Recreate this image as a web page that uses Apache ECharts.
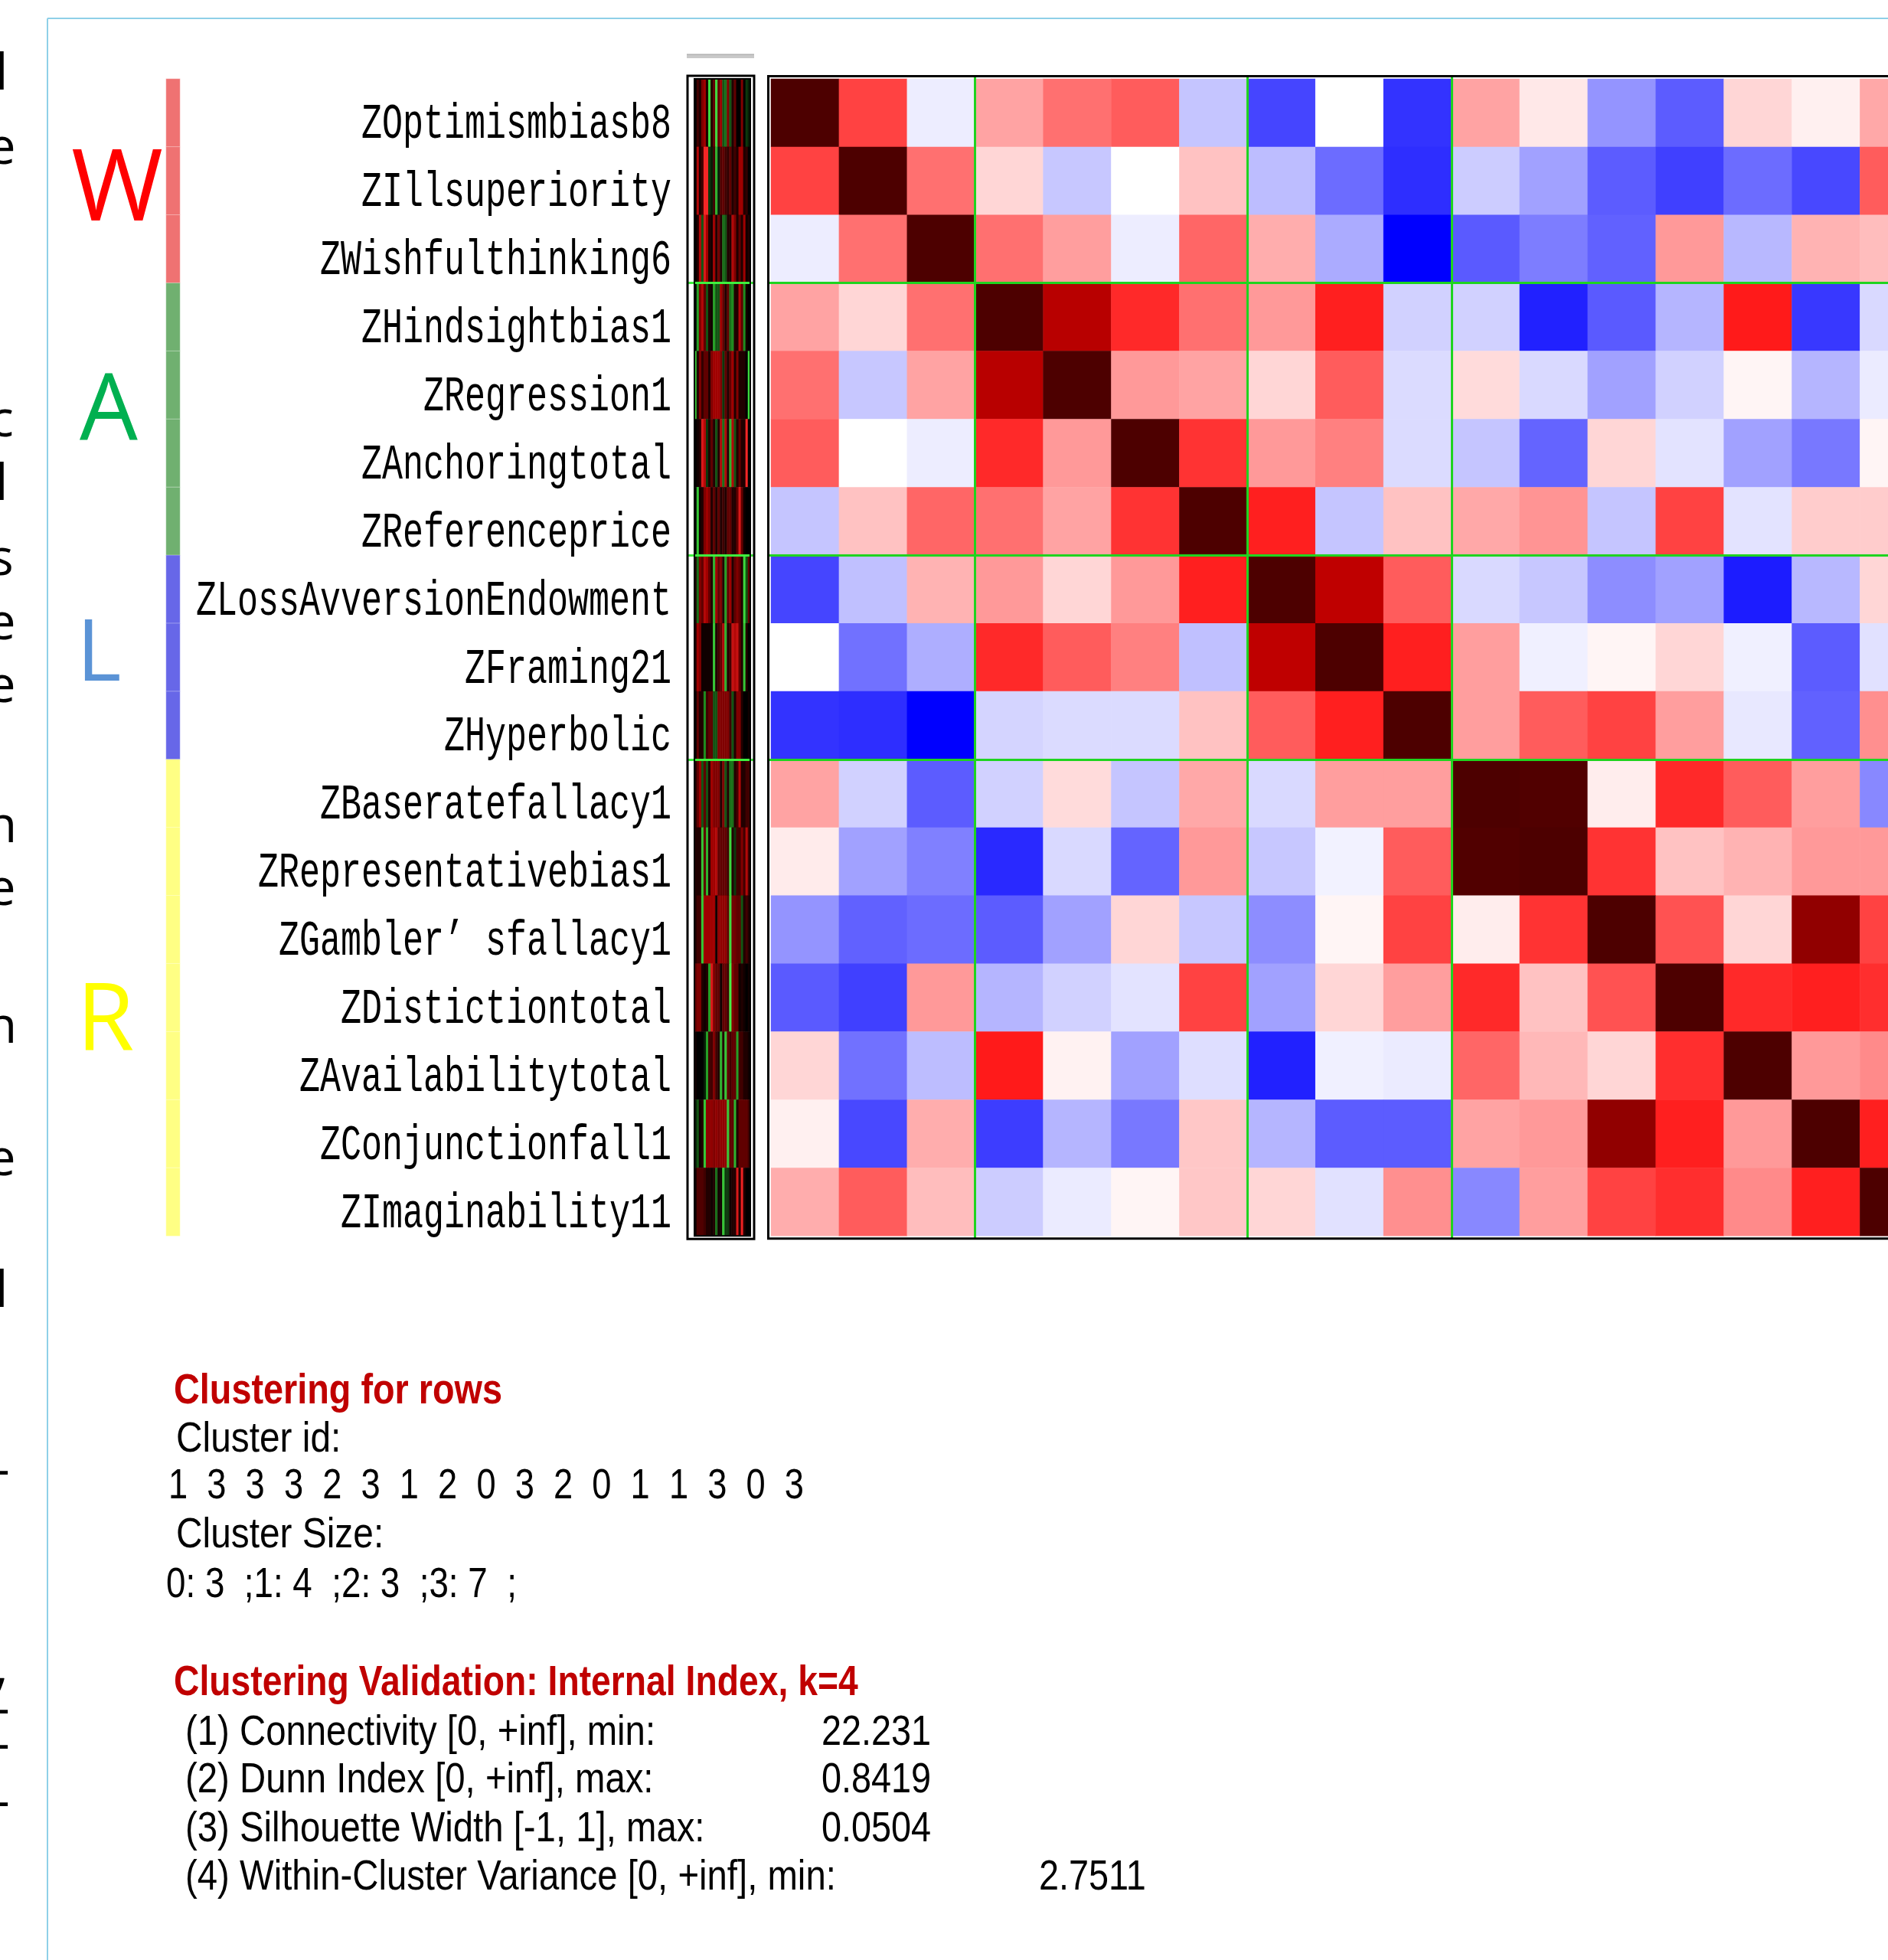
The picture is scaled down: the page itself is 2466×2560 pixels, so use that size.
<!DOCTYPE html>
<html><head><meta charset="utf-8">
<script src="https://cdn.jsdelivr.net/npm/echarts@6/dist/echarts.min.js"></script>
<style>html,body{margin:0;padding:0;background:#fff}#c{width:2466px;height:2560px}</style>
</head><body><div id="c"></div>
<script>
// ---------- data ----------
const rowLabels = ['ZOptimismbiasb8','ZIllsuperiority','ZWishfulthinking6','ZHindsightbias1','ZRegression1','ZAnchoringtotal','ZReferenceprice','ZLossAvversionEndowment','ZFraming21','ZHyperbolic','ZBaseratefallacy1','ZRepresentativebias1','ZGambler’ sfallacy1','ZDistictiontotal','ZAvailabilitytotal','ZConjunctionfall1','ZImaginability11'];
// correlation-style matrix (-1 = full blue, 0 = white, 1 = dark maroon)
const heatRows = [
 [1, .37, -.07, .18, .28, .32, -.23, -.73, 0, -.8, .18, .045, -.42, -.64, .08, .03, .17],
 [.37, 1, .28, .08, -.22, 0, .12, -.26, -.58, -.82, -.2, -.37, -.64, -.75, -.58, -.72, .32],
 [-.07, .28, 1, .28, .19, -.07, .3, .16, -.33, -1, -.65, -.51, -.62, .2, -.28, .15, .13],
 [.18, .08, .28, 1, .7, .42, .28, .2, .44, -.18, -.18, -.87, -.65, -.29, .45, -.78, -.15],
 [.28, -.22, .18, .7, 1, .2, .18, .08, .32, -.14, .07, -.15, -.37, -.18, .02, -.29, -.08],
 [.32, 0, -.07, .42, .2, 1, .4, .2, .25, -.14, -.23, -.61, .08, -.11, -.37, -.53, .02],
 [-.23, .12, .3, .28, .18, .4, 1, .44, -.23, .12, .17, .21, -.23, .37, -.11, .1, .1],
 [-.73, -.25, .15, .2, .08, .2, .44, 1, .68, .32, -.15, -.22, -.45, -.37, -.89, -.28, .08],
 [0, -.56, -.32, .42, .32, .25, -.25, .68, 1, .44, .19, -.06, .02, .08, -.06, -.64, -.12],
 [-.8, -.82, -1, -.17, -.14, -.14, .12, .32, .44, 1, .19, .32, .37, .19, -.09, -.62, .22],
 [.18, -.18, -.64, -.18, .07, -.23, .17, -.15, .19, .19, 1, .99, .035, .42, .32, .19, -.47],
 [.04, -.37, -.5, -.84, -.15, -.61, .2, -.22, -.05, .32, .99, 1, .4, .12, .15, .2, .2],
 [-.42, -.62, -.58, -.64, -.37, .08, -.22, -.45, .02, .37, .035, .4, 1, .34, .08, .81, .37],
 [-.65, -.75, .2, -.29, -.18, -.11, .37, -.37, .08, .19, .42, .12, .34, 1, .42, .44, .41],
 [.08, -.56, -.26, .45, .025, -.37, -.13, -.87, -.06, -.08, .3, .14, .08, .41, 1, .2, .23],
 [.03, -.72, .16, -.76, -.29, -.53, .11, -.29, -.64, -.64, .18, .2, .81, .44, .2, 1, .44],
 [.16, .32, .13, -.2, -.08, .02, .11, .08, -.12, .22, -.47, .19, .37, .41, .23, .44, 1]
];
// small red/green overview strip (green < 0 < red)
const stripRows = [
 [0, .2, .1, .4, .5, .1, -.9, .1, .3, -.9, .3, .5, -.3, -.4, .4, -.3, .1, .3, 0, 0, .4, 0, -.2, -.1],
 [0, .6, .1, .2, .95, .95, -.2, -.1, .2, -.7, -.1, .25, .3, .2, .15, .3, .1, .2, .1, .5, .5, .1, .15, 0],
 [0, .1, .6, -.3, .8, .5, .1, .05, .5, .1, .35, .1, -.4, -.3, .1, .1, .6, .4, .1, .3, .1, .5, .05, .1],
 [0, -.6, .4, .6, .3, -.3, .1, .05, -.6, -.3, -.3, .5, .3, .1, .3, -.4, -.5, .1, .1, .6, .3, -.5, .05, 0],
 [-.8, .1, .4, .15, .3, .3, .1, .4, .5, .5, .5, .4, -.2, .3, .1, .3, .5, .1, .4, .1, .1, .1, 0, -.9],
 [0, .05, .1, .8, .6, -.2, .1, .3, .1, -.3, .1, .6, -.4, .6, .1, -.7, .6, -.3, .1, .3, .1, .1, .95, 0],
 [0, -.8, .05, .1, .4, .5, .4, .1, .3, .1, .3, .1, .2, .1, .3, .3, .1, .1, .3, .8, .3, .05, 0, 0],
 [.1, -.4, .4, .3, .6, .5, .3, .1, -.7, .5, .3, .4, .1, -.6, .3, .5, .1, .3, .4, .3, .1, -.9, -.3, .3],
 [.1, .5, .4, .05, .05, .05, .05, .05, -.8, .1, .2, .3, .6, -.7, .1, .2, .7, .6, .7, .3, .1, -.8, .1, 0],
 [0, .3, .1, .1, -.5, .2, .3, .3, -.3, -.3, .4, .4, .4, .4, .4, .2, -.3, .1, .4, .4, .1, 0, 0, .05],
 [.1, .3, .5, -.3, .3, -.3, .1, .5, .4, .4, .4, .1, .4, -.3, .1, -.4, -.4, .1, .2, .6, .1, .1, .2, .2],
 [.1, .1, .1, -.8, .3, -.7, .1, .5, .5, .6, .3, .3, .3, .3, .2, -.9, .1, -.2, .2, .2, .4, .2, .6, .2],
 [.1, .2, .2, -.8, .5, .5, .5, .5, .5, .05, .45, .45, .45, .45, .3, -.9, .35, .35, .3, .3, -.3, .1, .2, .1],
 [.3, .4, .4, .1, .05, .1, -.6, .8, .4, .3, .3, .05, .3, .3, .2, -1, .4, .3, .3, .05, .1, .05, 0, .05],
 [.05, 0, 0, 0, -.1, -.6, .2, .2, .4, .2, .1, -.7, .1, -.8, .3, .2, .3, .3, -.6, .2, .2, .1, .1, .05],
 [-.1, -.3, .05, .1, -.8, .45, .45, .45, .4, .45, .4, .45, .45, .45, -.8, .3, .3, -.7, .1, .3, .3, .3, .3, .2],
 [.05, .25, .25, .25, .2, .1, .1, .05, .1, -.4, .05, .05, -.8, -.2, -.2, .05, .1, .1, .8, .1, .9, .1, 0, 0]
];
const groupNames = ['W', 'A', 'L', 'R'];
const rowGroups = ['W','W','W','A','A','A','A','L','L','L','R','R','R','R','R','R','R'];
const clusterBreaks = [3, 7, 10];
const clusterIds = [1, 3, 3, 3, 2, 3, 1, 2, 0, 3, 2, 0, 1, 1, 3, 0, 3];
const clusterSizes = [3, 4, 3, 7];
const validationNames = ['(1) Connectivity [0, +inf], min:', '(2) Dunn Index [0, +inf], max:', '(3) Silhouette Width [-1, 1], max:', '(4) Within-Cluster Variance [0, +inf], min:'];
const validationValues = ['22.231', '0.8419', '0.0504', '2.7511'];
const marginChars = ['l', 'e', 'c', 'l', 's', 'e', 'e', 'n', 'e', 'n', 'e', 'l', '-', ',', '-', '-', '-'];

// ---------- styles / layout ----------
const groupColors = ['#ef7272', '#70b070', '#6767e8', '#ffff84'];
const letterColors = ['#ff0000', '#00b050', '#5b93d6', '#ffff00'];
const letterSizes = [130, 120, 112, 122];
const letterX = [93, 104, 100, 100];
const letterDy = [15, -8, -2, 34];
const marginY = [98, 195, 551, 634, 732, 816, 898, 1081, 1163, 1343, 1516, 1688, 1922, 2180, 2234, 2280, 2355];

const N = rowLabels.length;
const CELL = 88.9, TOP = 103, HEAT_LEFT = 1007, PAD = 3.5;
const P = PAD / CELL;

const heatData = [];
heatRows.forEach((row, r) => row.forEach((v, c) => heatData.push([c, r, v])));
const stripCols = stripRows[0].map((_, i) => 's' + i);
const stripData = [];
stripRows.forEach((row, r) => row.forEach((v, c) => stripData.push([c, r, v])));
const groupData = rowGroups.map((g, r) => [0, r, groupNames.indexOf(g)]);
const sepLines = [];
clusterBreaks.forEach(b => {
  sepLines.push({ coords: [[b, -P], [b, N + P]] });
  sepLines.push({ coords: [[-P, b], [N + P, b]] });
});
const stripLines = clusterBreaks.map(b => ({ coords: [[0, b], [1, b]] }));

const chart = echarts.init(document.getElementById('c'));
const hidden = { show: false };
const gb = { outerBoundsMode: 'none', containLabel: false };
chart.setOption({
  animation: false,
  backgroundColor: '#ffffff',
  grid: [
    { ...gb, left: HEAT_LEFT, top: TOP, width: N * CELL, height: N * CELL },
    { ...gb, left: 907, top: TOP, width: 73, height: N * CELL, show: true, borderColor: '#000', borderWidth: 2, backgroundColor: 'transparent', z: 5 },
    { ...gb, left: 217, top: TOP, width: 18, height: N * CELL },
    { ...gb, left: HEAT_LEFT - PAD, top: TOP - PAD, width: N * CELL + 2 * PAD, height: N * CELL + 2 * PAD, show: true, borderColor: '#000', borderWidth: 3, backgroundColor: 'transparent', z: 5 },
    { ...gb, left: 898, top: TOP - 4, width: 87, height: N * CELL + 8, show: true, borderColor: '#000', borderWidth: 3, backgroundColor: 'transparent', z: 5 }
  ],
  xAxis: [
    { gridIndex: 0, type: 'category', data: rowLabels, ...hidden },
    { gridIndex: 1, type: 'category', data: stripCols, ...hidden },
    { gridIndex: 2, type: 'category', data: ['group'], ...hidden },
    { gridIndex: 3, type: 'value', min: -P, max: N + P, ...hidden },
    { gridIndex: 4, type: 'value', min: 0, max: 1, ...hidden }
  ],
  yAxis: [
    { gridIndex: 0, type: 'category', data: rowLabels, inverse: true, ...hidden },
    { gridIndex: 1, type: 'category', data: rowLabels, inverse: true, ...hidden },
    { gridIndex: 2, type: 'category', data: rowLabels, inverse: true, ...hidden },
    { gridIndex: 3, type: 'value', min: -P, max: N + P, inverse: true, ...hidden },
    { gridIndex: 4, type: 'value', min: -4 / CELL, max: N + 4 / CELL, inverse: true, ...hidden }
  ],
  visualMap: [
    { type: 'continuous', show: false, seriesIndex: 0, dimension: 2, min: -1, max: 1,
      inRange: { color: ['#0000ff', '#8080ff', '#ffffff', '#ff0000', '#4d0000'] } },
    { type: 'continuous', show: false, seriesIndex: 1, dimension: 2, min: -1, max: 1,
      inRange: { color: ['#44ee44', '#1f8c1f', '#000000', '#a00000', '#ff2a2a'] } },
    { type: 'piecewise', show: false, seriesIndex: 2, dimension: 2,
      pieces: groupNames.map((g, i) => ({ value: i, color: groupColors[i] })) }
  ],
  series: [
    { type: 'heatmap', xAxisIndex: 0, yAxisIndex: 0, data: heatData, silent: true, emphasis: { disabled: true } },
    { type: 'heatmap', xAxisIndex: 1, yAxisIndex: 1, data: stripData, silent: true, emphasis: { disabled: true } },
    { type: 'heatmap', xAxisIndex: 2, yAxisIndex: 2, data: groupData, silent: true, emphasis: { disabled: true },
      itemStyle: { borderColor: 'rgba(255,255,255,0.35)', borderWidth: 1 } },
    { type: 'lines', coordinateSystem: 'cartesian2d', xAxisIndex: 3, yAxisIndex: 3, data: sepLines, silent: true, z: 4,
      lineStyle: { color: '#1fd41f', width: 3, opacity: 1 } },
    { type: 'lines', coordinateSystem: 'cartesian2d', xAxisIndex: 4, yAxisIndex: 4, data: stripLines, silent: true, z: 4,
      lineStyle: { color: '#3ef03e', width: 3, opacity: 1 } }
  ]
});

// ---------- texts and decorations ----------
const rowY = rowLabels.map(l => chart.convertToPixel({ yAxisIndex: 0 }, l));
const els = [];
function txt(text, x, y, o) {
  o = o || {};
  els.push({
    type: 'text', x: x, y: y, scaleX: o.sx || 1, scaleY: o.sy || 1, z: 20, silent: true,
    style: {
      text: text, fill: o.fill || '#000', fontFamily: o.family || 'Liberation Sans',
      fontSize: o.size || 52, fontWeight: o.weight || 'normal',
      textAlign: o.align || 'left', align: o.align || 'left',
      textVerticalAlign: 'middle', verticalAlign: 'middle'
    }
  });
}
// light blue page frame
els.push({ type: 'line', silent: true, shape: { x1: 62, y1: 24, x2: 62, y2: 2560 }, style: { stroke: '#8fd0e8', lineWidth: 2 } });
els.push({ type: 'line', silent: true, shape: { x1: 62, y1: 24, x2: 2466, y2: 24 }, style: { stroke: '#8fd0e8', lineWidth: 2 } });
// grey bar above strip
els.push({ type: 'rect', silent: true, shape: { x: 897, y: 71, width: 88, height: 5 }, style: { fill: '#c9c9c9' } });
els.push({ type: 'line', silent: true, shape: { x1: 897, y1: 71, x2: 985, y2: 71 }, style: { stroke: '#a0a0a0', lineWidth: 1 } });
// cut-off characters at the left margin
marginChars.forEach((ch, i) => txt(ch, 2, marginY[i], { family: 'Open Sans', size: 66, align: 'center' }));
// row labels
rowLabels.forEach((l, i) => txt(l, 877, rowY[i] + 16, { family: 'Liberation Mono', size: 45, sy: 1.42, align: 'right' }));
// group letters
groupNames.forEach((g, gi) => {
  const idx = rowGroups.map((v, i) => v === g ? i : -1).filter(i => i >= 0);
  const cy = (rowY[idx[0]] + rowY[idx[idx.length - 1]]) / 2 + letterDy[gi];
  txt(g, letterX[gi], cy, { family: 'Open Sans', size: letterSizes[gi], fill: letterColors[gi] });
});
// bottom report
const red = '#c00000';
txt('Clustering for rows', 227, 1837 - 19, { weight: 'bold', fill: red, sx: 0.9, sy: 1.05 });
txt('Cluster id:', 230, 1900 - 19, { sx: 0.92, sy: 1.05 });
txt(clusterIds.join('  '), 220, 1961 - 19, { sx: 0.87, sy: 1.05 });
txt('Cluster Size:', 230, 2025 - 19, { sx: 0.92, sy: 1.05 });
txt(clusterSizes.map((s, i) => i + ': ' + s + '  ;').join(''), 217, 2090 - 19, { sx: 0.88, sy: 1.05 });
txt('Clustering Validation: Internal Index, k=4', 227, 2218 - 19, { weight: 'bold', fill: red, sx: 0.89, sy: 1.05 });
const valBase = [2283, 2345, 2409, 2472];
const valX = [1073, 1073, 1073, 1357];
validationNames.forEach((n, i) => {
  txt(n, 242, valBase[i] - 19, { sx: 0.91, sy: 1.05 });
  txt(validationValues[i], valX[i], valBase[i] - 19, { sx: 0.9, sy: 1.05 });
});
chart.setOption({ graphic: { elements: els } });
</script>
</body></html>
